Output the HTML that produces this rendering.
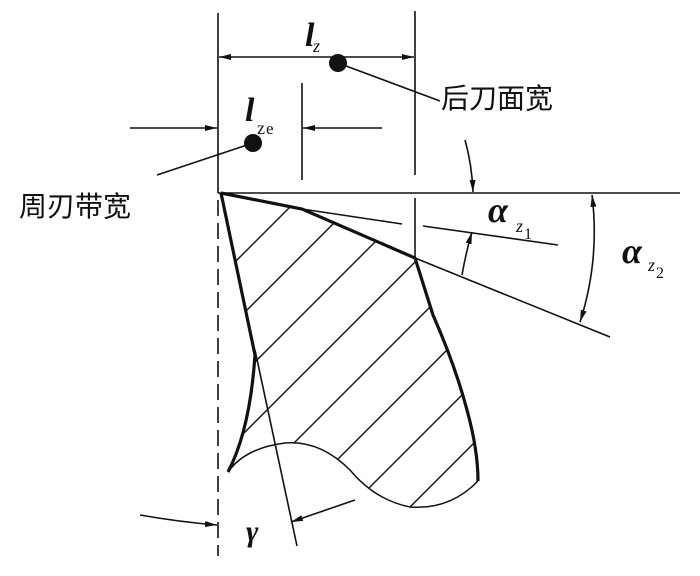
<!DOCTYPE html>
<html><head><meta charset="utf-8"><style>
html,body{margin:0;padding:0;background:#fff;width:700px;height:576px;overflow:hidden;position:relative;}
svg{display:block;position:absolute;top:0;left:0;overflow:hidden;}
.t{font-family:"Liberation Serif","Noto Serif CJK SC",serif;}
.c{font-family:"Liberation Sans","Noto Sans CJK SC",sans-serif;font-size:28px;}
</style></head><body>
<svg width="700" height="576" viewBox="0 0 700 576" xmlns="http://www.w3.org/2000/svg">
<defs>
<marker id="a" markerWidth="12" markerHeight="6" refX="12" refY="3" orient="auto" markerUnits="userSpaceOnUse"><path d="M0,0 L12,3 L0,6 Z" fill="#111"/></marker>
<marker id="s" markerWidth="12" markerHeight="6" refX="0" refY="3" orient="auto" markerUnits="userSpaceOnUse"><path d="M12,0 L0,3 L12,6 Z" fill="#111"/></marker>
<clipPath id="cp"><path d="M221,193 L302,209 L415,258 Q425,290 433,315 Q455,365 467,410 Q478,450 478,481 Q450,510 410,507 Q375,500 350,470 Q320,440 285,443 Q245,448 228,472 Q250,430 255,355 Z"/></clipPath>
</defs>
<g stroke="#111" fill="none" stroke-width="1.6">
<line x1="218" y1="13" x2="218" y2="193"/>
<line x1="415" y1="11" x2="415" y2="175"/>
<line x1="415" y1="198" x2="415" y2="258"/>
<line x1="302" y1="83" x2="302" y2="180"/>
<line x1="218" y1="200" x2="218" y2="556" stroke-dasharray="16,7"/>
<line x1="218" y1="193" x2="680" y2="193"/>
<line x1="219" y1="57" x2="414" y2="57" marker-start="url(#s)" marker-end="url(#a)"/>
<line x1="130" y1="128" x2="217" y2="128" marker-end="url(#a)"/>
<line x1="382" y1="128" x2="303" y2="128" marker-end="url(#a)"/>
<line x1="338" y1="63" x2="440" y2="101"/>
<line x1="253" y1="143" x2="157" y2="175"/>
<line x1="302" y1="209" x2="402" y2="224"/>
<line x1="423" y1="226" x2="558" y2="245"/>
<line x1="415" y1="258" x2="610" y2="337"/>
<line x1="255" y1="350" x2="297" y2="546"/>
<path d="M465,140 Q472,165 473,192" marker-end="url(#a)"/>
<path d="M462,275 Q466,252 472,232" marker-end="url(#a)"/>
<path d="M592,195 Q600,260 580,322" marker-start="url(#s)" marker-end="url(#a)"/>
<path d="M140,515 Q180,522 217,525" marker-end="url(#a)"/>
<line x1="355" y1="500" x2="291" y2="522" marker-end="url(#a)"/>
<g clip-path="url(#cp)" stroke-width="1.4">
<line x1="-63" y1="560" x2="347" y2="150"/>
<line x1="-3" y1="560" x2="407" y2="150"/>
<line x1="57" y1="560" x2="467" y2="150"/>
<line x1="117" y1="560" x2="527" y2="150"/>
<line x1="177" y1="560" x2="587" y2="150"/>
<line x1="237" y1="560" x2="647" y2="150"/>
<line x1="297" y1="560" x2="707" y2="150"/>
<line x1="357" y1="560" x2="767" y2="150"/>
<line x1="417" y1="560" x2="827" y2="150"/>
<line x1="477" y1="560" x2="887" y2="150"/>
</g>
<path d="M228,472 Q245,448 285,443 Q320,440 350,470 Q375,500 410,507 Q450,510 478,481" stroke-width="1.5"/>
<path d="M221,193 L302,209 L415,258 Q425,290 433,315 Q455,365 467,410 Q478,450 478,481" stroke-width="3.2"/>
<path d="M221,193 L255,355 Q250,430 228,472" stroke-width="3.2"/>
</g>
<circle cx="338" cy="63" r="9" fill="#111"/>
<circle cx="253" cy="143" r="9" fill="#111"/>
<g class="t" fill="#111" font-style="italic" font-weight="bold">
<text x="305" y="46" font-size="34">l</text>
<text x="245" y="121" font-size="34">l</text>
<text x="488" y="222" font-size="36">α</text>
<text x="622" y="263" font-size="36">α</text>
<text x="246" y="541" font-size="30">γ</text>
</g>
<g class="t" fill="#111">
<text x="313" y="52" font-size="18" font-style="italic">z</text>
<text x="257" y="134" font-size="18">z</text><text x="266" y="134" font-size="17">e</text>
<text x="516" y="232" font-size="18" font-style="italic">z</text><text x="524" y="239" font-size="16">1</text>
<text x="648" y="271" font-size="18" font-style="italic">z</text><text x="656" y="278" font-size="16">2</text>
</g>
<text class="c" x="441" y="108" fill="#111">后刀面宽</text>
<text class="c" x="19" y="216" fill="#111">周刃带宽</text>
</svg>
</body></html>
